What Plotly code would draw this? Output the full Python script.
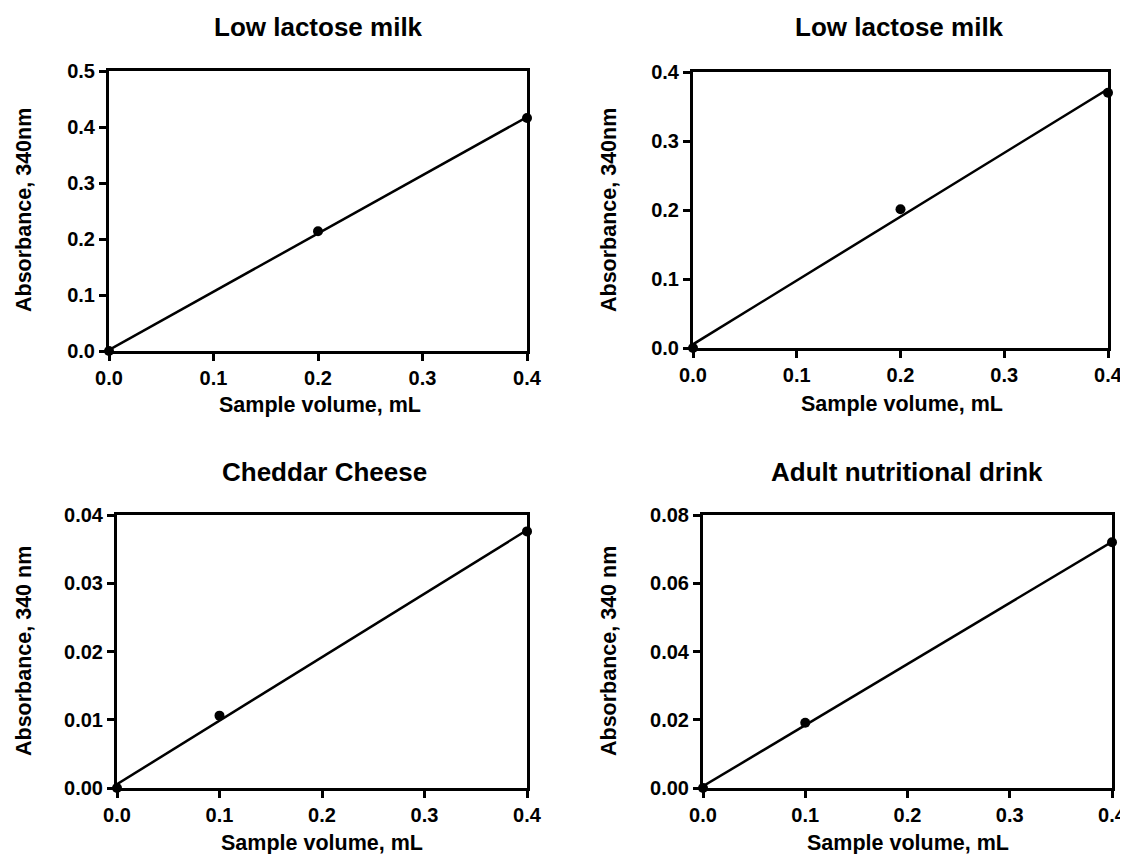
import numpy as np
import plotly.graph_objects as go

# ---- data ----
titles = ["Low lactose milk", "Low lactose milk", "Cheddar Cheese", "Adult nutritional drink"]
y_titles = ["Absorbance, 340nm", "Absorbance, 340nm", "Absorbance, 340 nm", "Absorbance, 340 nm"]
x_title = "Sample volume, mL"

x_p1 = [0.0, 0.2, 0.4]
y_p1 = [0.0, 0.2137, 0.416]
x_p2 = [0.0, 0.2, 0.4]
y_p2 = [0.0, 0.201, 0.370]
x_p3 = [0.0, 0.1, 0.4]
y_p3 = [0.0, 0.0106, 0.0376]
x_p4 = [0.0, 0.1, 0.4]
y_p4 = [0.0, 0.0191, 0.0720]

x_ticks = [0.0, 0.1, 0.2, 0.3, 0.4]
x_ticklabels = ["0.0", "0.1", "0.2", "0.3", "0.4"]
y_ticks_p1 = [0.0, 0.1, 0.2, 0.3, 0.4, 0.5]
y_ticklabels_p1 = ["0.0", "0.1", "0.2", "0.3", "0.4", "0.5"]
y_ticks_p2 = [0.0, 0.1, 0.2, 0.3, 0.4]
y_ticklabels_p2 = ["0.0", "0.1", "0.2", "0.3", "0.4"]
y_ticks_p3 = [0.0, 0.01, 0.02, 0.03, 0.04]
y_ticklabels_p3 = ["0.00", "0.01", "0.02", "0.03", "0.04"]
y_ticks_p4 = [0.0, 0.02, 0.04, 0.06, 0.08]
y_ticklabels_p4 = ["0.00", "0.02", "0.04", "0.06", "0.08"]

panels = [
    (x_p1, y_p1, y_ticks_p1, y_ticklabels_p1),
    (x_p2, y_p2, y_ticks_p2, y_ticklabels_p2),
    (x_p3, y_p3, y_ticks_p3, y_ticklabels_p3),
    (x_p4, y_p4, y_ticks_p4, y_ticklabels_p4),
]

# ---- layout geometry (page pixels; the page body adds an 8px offset) ----
OFF = 8
W, H = 1128 - OFF, 854 - OFF
boxes = [  # x0, x1, ytop, ybottom
    (109, 527, 71, 351),
    (693, 1108, 72, 348),
    (117, 527, 515, 788),
    (703, 1112, 515, 788),
]
title_pos = [(318, 27), (900, 27), (324, 472), (907, 472)]
xt_pos = [(320, 405), (902, 404), (322, 843), (908, 843)]
yt_pos = [(24, 210), (609, 210), (24, 651), (609, 651)]


def px(x):
    return (x - OFF) / W


def py(y):
    return 1 - (y - OFF) / H


FONT = "Liberation Sans, Arial, sans-serif"

fig = go.Figure()
layout = dict(
    width=W, height=H,
    margin=dict(l=0, r=0, t=0, b=0, pad=0, autoexpand=False),
    paper_bgcolor="white", plot_bgcolor="white",
    showlegend=False,
    font=dict(family=FONT, color="black", size=20, weight="bold"),
)
annotations = []

for i, (xs, ys, yt, ytl) in enumerate(panels):
    n = "" if i == 0 else str(i + 1)
    xa, ya = "x" + n, "y" + n
    # data points
    fig.add_trace(go.Scatter(
        x=xs, y=ys, mode="markers", xaxis=xa, yaxis=ya,
        marker=dict(color="black", size=10), cliponaxis=False))
    # linear regression line
    slope, icpt = np.polyfit(xs, ys, 1)
    lx = [min(xs), max(xs)]
    ly = [icpt + slope * v for v in lx]
    fig.add_trace(go.Scatter(
        x=lx, y=ly, mode="lines", xaxis=xa, yaxis=ya,
        line=dict(color="black", width=2.5), cliponaxis=False))

    x0, x1, yt_px, yb_px = boxes[i]
    common = dict(showline=True, linecolor="black", linewidth=3, mirror=True,
                  ticks="outside", ticklen=7, tickwidth=2.5, tickcolor="black",
                  showgrid=False, zeroline=False, automargin=False,
                  tickfont=dict(family=FONT, size=20, color="black", weight="bold"))
    layout["xaxis" + n] = dict(
        domain=[px(x0), px(x1)], anchor=ya, range=[0, 0.4],
        tickvals=x_ticks, ticktext=x_ticklabels, **common)
    layout["yaxis" + n] = dict(
        domain=[py(yb_px), py(yt_px)], anchor=xa, range=[yt[0], yt[-1]],
        tickvals=yt, ticktext=ytl, **common)

    tx, ty = title_pos[i]
    annotations.append(dict(text=titles[i], x=px(tx), y=py(ty), xref="paper", yref="paper",
                            showarrow=False, xanchor="center", yanchor="middle",
                            font=dict(family=FONT, size=26, color="black", weight="bold")))
    ax_, ay_ = xt_pos[i]
    annotations.append(dict(text=x_title, x=px(ax_), y=py(ay_), xref="paper", yref="paper",
                            showarrow=False, xanchor="center", yanchor="middle",
                            font=dict(family=FONT, size=21.5, color="black", weight="bold")))
    bx, by = yt_pos[i]
    annotations.append(dict(text=y_titles[i], x=px(bx), y=py(by), xref="paper", yref="paper",
                            showarrow=False, xanchor="center", yanchor="middle", textangle=-90,
                            font=dict(family=FONT, size=21.5, color="black", weight="bold")))

layout["annotations"] = annotations
fig.update_layout(**layout)
fig.write_html("out.html")
